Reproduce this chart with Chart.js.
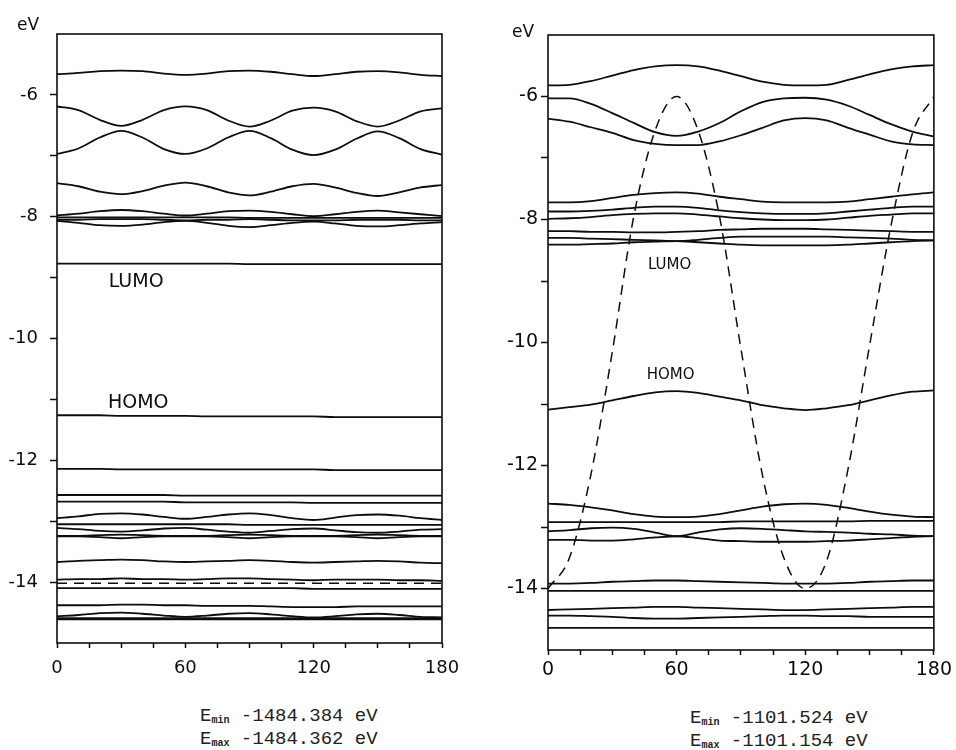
<!DOCTYPE html>
<html lang="en">
<head>
<meta charset="UTF-8">
<title>Band energies vs torsion angle</title>
<script src="https://cdn.jsdelivr.net/npm/chart.js"></script>
<style>
    html, body { margin: 0; padding: 0; background: #fff; }
    #page { position: relative; width: 956px; height: 750px; overflow: hidden; }
    canvas { position: absolute; top: 0; }
    #leftChart { left: 0; }
    #rightChart { left: 470px; }
    .energy { position: absolute; font-family: "Liberation Mono", "Courier New", monospace; font-size: 19px; color: #222; line-height: 23px; }
    .energy sub { font-size: 10px; font-weight: bold; vertical-align: -2px; line-height: 0; }
</style>
</head>
<body>
<div id="page">
    <canvas id="leftChart" width="470" height="700"></canvas>
    <canvas id="rightChart" width="486" height="700"></canvas>
    <div class="energy" id="leftEnergy" style="left:200px; top:705px"></div>
    <div class="energy" id="rightEnergy" style="left:690px; top:707px"></div>
</div>

<script>
    // torsion angle (deg)
    var angles = [0, 10, 20, 30, 40, 50, 60, 70, 80, 90, 100, 110, 120, 130, 140, 150, 160, 170, 180]
    var xTicks = [0, 60, 120, 180]
    var yTicks = [-6, -8, -10, -12, -14]

    // left panel, eV
    var leftBand1 = [-5.66, -5.64, -5.61, -5.60, -5.61, -5.65, -5.67, -5.65, -5.61, -5.60, -5.62, -5.66, -5.69, -5.66, -5.62, -5.61, -5.63, -5.67, -5.69]
    var leftBand2 = [-6.19, -6.25, -6.41, -6.51, -6.41, -6.25, -6.19, -6.25, -6.42, -6.52, -6.42, -6.26, -6.21, -6.27, -6.43, -6.52, -6.42, -6.27, -6.22]
    var leftBand3 = [-6.97, -6.88, -6.70, -6.59, -6.70, -6.89, -6.97, -6.88, -6.70, -6.59, -6.71, -6.90, -6.99, -6.90, -6.72, -6.60, -6.71, -6.89, -6.98]
    var leftBand4 = [-7.45, -7.50, -7.59, -7.63, -7.58, -7.49, -7.44, -7.50, -7.60, -7.65, -7.59, -7.50, -7.46, -7.52, -7.61, -7.66, -7.60, -7.52, -7.48]
    var leftBand5 = [-7.98, -7.95, -7.91, -7.89, -7.91, -7.95, -7.98, -7.95, -7.91, -7.90, -7.92, -7.96, -7.99, -7.96, -7.92, -7.90, -7.93, -7.96, -7.99]
    var leftBand6 = [-8.01, -8.01, -8.01, -8.01, -8.01, -8.01, -8.01, -8.01, -8.01, -8.02, -8.02, -8.02, -8.02, -8.02, -8.02, -8.02, -8.02, -8.02, -8.02]
    var leftBand7 = [-8.05, -8.05, -8.04, -8.04, -8.04, -8.05, -8.06, -8.05, -8.05, -8.04, -8.05, -8.06, -8.06, -8.06, -8.05, -8.05, -8.05, -8.06, -8.06]
    var leftBand8 = [-8.07, -8.10, -8.14, -8.15, -8.13, -8.09, -8.07, -8.10, -8.15, -8.17, -8.14, -8.10, -8.08, -8.11, -8.15, -8.16, -8.14, -8.11, -8.09]
    var leftLumo = [-8.77, -8.77, -8.77, -8.77, -8.77, -8.77, -8.77, -8.77, -8.77, -8.78, -8.78, -8.78, -8.78, -8.78, -8.78, -8.78, -8.78, -8.78, -8.78]
    var leftHomo = [-11.26, -11.26, -11.26, -11.27, -11.27, -11.27, -11.27, -11.28, -11.28, -11.28, -11.28, -11.28, -11.28, -11.29, -11.29, -11.29, -11.29, -11.29, -11.29]
    var leftBand11 = [-12.14, -12.14, -12.14, -12.15, -12.15, -12.15, -12.15, -12.15, -12.15, -12.15, -12.15, -12.15, -12.15, -12.16, -12.16, -12.16, -12.16, -12.16, -12.16]
    var leftBand12 = [-12.57, -12.57, -12.57, -12.57, -12.57, -12.57, -12.58, -12.58, -12.58, -12.58, -12.58, -12.58, -12.58, -12.58, -12.58, -12.58, -12.58, -12.58, -12.58]
    var leftBand13 = [-12.68, -12.68, -12.68, -12.68, -12.68, -12.68, -12.69, -12.69, -12.69, -12.69, -12.69, -12.69, -12.70, -12.70, -12.70, -12.70, -12.70, -12.70, -12.70]
    var leftBand14 = [-12.95, -12.92, -12.88, -12.87, -12.89, -12.93, -12.96, -12.93, -12.89, -12.87, -12.90, -12.95, -12.98, -12.94, -12.90, -12.89, -12.91, -12.95, -12.98]
    var leftBand15 = [-13.05, -13.05, -13.05, -13.05, -13.05, -13.05, -13.05, -13.05, -13.05, -13.06, -13.06, -13.06, -13.06, -13.06, -13.06, -13.06, -13.06, -13.06, -13.06]
    var leftBand16 = [-13.11, -13.13, -13.16, -13.17, -13.15, -13.12, -13.11, -13.14, -13.17, -13.19, -13.16, -13.13, -13.12, -13.15, -13.18, -13.19, -13.17, -13.14, -13.13]
    var leftBand17 = [-13.24, -13.24, -13.23, -13.22, -13.23, -13.24, -13.24, -13.24, -13.23, -13.22, -13.23, -13.24, -13.24, -13.24, -13.23, -13.22, -13.23, -13.24, -13.24]
    var leftBand18 = [-13.25, -13.25, -13.26, -13.28, -13.26, -13.25, -13.25, -13.25, -13.26, -13.28, -13.26, -13.25, -13.25, -13.25, -13.26, -13.28, -13.26, -13.25, -13.25]
    var leftBand19 = [-13.67, -13.65, -13.64, -13.63, -13.64, -13.66, -13.67, -13.66, -13.65, -13.64, -13.65, -13.67, -13.68, -13.67, -13.66, -13.65, -13.66, -13.68, -13.69]
    var leftBand20 = [-13.96, -13.95, -13.95, -13.94, -13.95, -13.95, -13.96, -13.95, -13.94, -13.94, -13.95, -13.96, -13.97, -13.96, -13.96, -13.96, -13.97, -13.97, -13.98]
    var leftTotal = [-14.02, -14.02, -14.02, -14.02, -14.02, -14.02, -14.02, -14.02, -14.02, -14.02, -14.02, -14.02, -14.02, -14.02, -14.02, -14.02, -14.02, -14.02, -14.02]
    var leftBand21 = [-14.10, -14.10, -14.10, -14.10, -14.10, -14.10, -14.10, -14.10, -14.10, -14.10, -14.10, -14.10, -14.11, -14.11, -14.11, -14.11, -14.11, -14.11, -14.11]
    var leftBand22 = [-14.38, -14.38, -14.38, -14.37, -14.37, -14.38, -14.38, -14.39, -14.39, -14.39, -14.40, -14.41, -14.41, -14.41, -14.40, -14.40, -14.40, -14.40, -14.40]
    var leftBand23 = [-14.56, -14.54, -14.51, -14.50, -14.52, -14.55, -14.57, -14.55, -14.52, -14.51, -14.53, -14.56, -14.58, -14.56, -14.53, -14.52, -14.54, -14.57, -14.58]
    var leftBand24 = [-14.59, -14.59, -14.59, -14.59, -14.59, -14.59, -14.59, -14.59, -14.59, -14.59, -14.59, -14.59, -14.59, -14.59, -14.59, -14.59, -14.59, -14.59, -14.59]
    var leftBand25 = [-14.61, -14.61, -14.61, -14.61, -14.61, -14.61, -14.61, -14.61, -14.61, -14.61, -14.61, -14.61, -14.61, -14.61, -14.61, -14.61, -14.61, -14.61, -14.61]

    // right panel, eV
    var rightBand1 = [-5.82, -5.81, -5.75, -5.66, -5.57, -5.51, -5.49, -5.51, -5.58, -5.67, -5.76, -5.81, -5.82, -5.81, -5.73, -5.64, -5.56, -5.51, -5.49]
    var rightBand2 = [-6.03, -6.03, -6.12, -6.27, -6.43, -6.58, -6.64, -6.57, -6.43, -6.24, -6.09, -6.03, -6.02, -6.05, -6.15, -6.30, -6.45, -6.57, -6.65]
    var rightBand3 = [-6.36, -6.41, -6.50, -6.59, -6.71, -6.77, -6.79, -6.79, -6.73, -6.63, -6.51, -6.39, -6.35, -6.39, -6.51, -6.62, -6.73, -6.78, -6.79]
    var rightBand4 = [-7.72, -7.72, -7.70, -7.65, -7.60, -7.57, -7.56, -7.58, -7.63, -7.67, -7.71, -7.72, -7.72, -7.72, -7.71, -7.67, -7.63, -7.59, -7.56]
    var rightBand5 = [-7.87, -7.87, -7.86, -7.84, -7.81, -7.79, -7.79, -7.81, -7.85, -7.88, -7.90, -7.91, -7.91, -7.90, -7.87, -7.84, -7.81, -7.79, -7.79]
    var rightBand6 = [-7.99, -7.98, -7.96, -7.93, -7.91, -7.90, -7.90, -7.92, -7.95, -7.98, -8.00, -8.01, -8.01, -8.00, -7.97, -7.94, -7.92, -7.90, -7.90]
    var rightBand7 = [-8.19, -8.19, -8.20, -8.20, -8.21, -8.21, -8.20, -8.19, -8.17, -8.16, -8.15, -8.15, -8.15, -8.16, -8.17, -8.18, -8.19, -8.20, -8.20]
    var rightBand8 = [-8.30, -8.30, -8.31, -8.32, -8.33, -8.34, -8.35, -8.33, -8.30, -8.28, -8.28, -8.28, -8.28, -8.28, -8.29, -8.30, -8.31, -8.33, -8.34]
    var rightLumo = [-8.41, -8.41, -8.40, -8.39, -8.37, -8.36, -8.35, -8.37, -8.39, -8.41, -8.42, -8.42, -8.42, -8.42, -8.41, -8.39, -8.37, -8.35, -8.34]
    var rightHomo = [-11.09, -11.05, -11.01, -10.94, -10.87, -10.81, -10.79, -10.82, -10.88, -10.94, -11.02, -11.07, -11.10, -11.07, -11.02, -10.94, -10.86, -10.80, -10.78]
    var rightBand11 = [-12.62, -12.64, -12.68, -12.73, -12.79, -12.83, -12.84, -12.83, -12.79, -12.73, -12.67, -12.63, -12.62, -12.64, -12.69, -12.75, -12.80, -12.83, -12.84]
    var rightBand12 = [-12.92, -12.92, -12.92, -12.92, -12.92, -12.92, -12.92, -12.92, -12.92, -12.91, -12.91, -12.91, -12.91, -12.91, -12.91, -12.90, -12.90, -12.90, -12.90]
    var rightBand13 = [-13.07, -13.05, -13.02, -13.01, -13.03, -13.09, -13.15, -13.09, -13.04, -13.02, -13.03, -13.05, -13.07, -13.08, -13.09, -13.11, -13.12, -13.14, -13.15]
    var rightBand14 = [-13.21, -13.21, -13.22, -13.22, -13.20, -13.17, -13.15, -13.18, -13.22, -13.23, -13.24, -13.24, -13.24, -13.23, -13.22, -13.20, -13.18, -13.16, -13.15]
    var rightBand15 = [-13.92, -13.92, -13.91, -13.89, -13.88, -13.87, -13.87, -13.88, -13.89, -13.90, -13.91, -13.92, -13.92, -13.92, -13.91, -13.89, -13.88, -13.87, -13.87]
    var rightBand16 = [-14.04, -14.04, -14.04, -14.04, -14.04, -14.04, -14.04, -14.04, -14.04, -14.04, -14.04, -14.04, -14.04, -14.04, -14.04, -14.04, -14.04, -14.04, -14.04]
    var rightBand17 = [-14.35, -14.34, -14.33, -14.32, -14.31, -14.30, -14.30, -14.31, -14.32, -14.33, -14.34, -14.35, -14.35, -14.34, -14.33, -14.32, -14.31, -14.30, -14.30]
    var rightBand18 = [-14.44, -14.44, -14.45, -14.46, -14.48, -14.49, -14.49, -14.48, -14.47, -14.46, -14.45, -14.44, -14.44, -14.45, -14.45, -14.46, -14.46, -14.46, -14.46]
    var rightBand19 = [-14.64, -14.64, -14.64, -14.64, -14.64, -14.64, -14.64, -14.64, -14.64, -14.64, -14.64, -14.64, -14.64, -14.64, -14.64, -14.64, -14.64, -14.64, -14.64]
    // total energy curve (scaled), dashed
    var rightTotal = [-14.0, -13.5, -12.15, -10.15, -7.95, -6.55, -6.0, -6.55, -7.95, -10.1, -12.15, -13.5, -14.0, -13.55, -12.05, -10.05, -8.1, -6.6, -6.0]

    var leftEnergy = ['-1484.384', '-1484.362']
    var rightEnergy = ['-1101.524', '-1101.154']

    var INK = '#0d0d0d'
    var FONT = '"DejaVu Sans", sans-serif'

    function line(values, dashed) {
        return {
            data: values.map((v, i) => ({x: angles[i], y: v})),
            borderColor: INK,
            borderWidth: dashed ? 1.5 : 1.8,
            borderDash: dashed ? [10, 7] : [],
            pointRadius: 0,
            fill: false,
            cubicInterpolationMode: 'monotone'
        }
    }

    // frame, "eV" unit and HOMO/LUMO notes
    function textPlugin(cfg) {
        return {
            id: 'bandText',
            afterDraw(chart) {
                var ctx = chart.ctx, a = chart.chartArea
                var sx = chart.scales.x, sy = chart.scales.y
                ctx.save()
                ctx.strokeStyle = INK
                ctx.lineWidth = 1.6
                ctx.strokeRect(a.left, a.top, a.right - a.left, a.bottom - a.top)
                ctx.fillStyle = INK
                ctx.textAlign = 'center'
                ctx.textBaseline = 'middle'
                ctx.font = '17px ' + FONT
                ctx.fillText('eV', a.left + cfg.unitDx, a.top + cfg.unitDy)
                ctx.font = cfg.noteSize + 'px ' + FONT
                cfg.notes.forEach(n => ctx.fillText(n.text, sx.getPixelForValue(n.x), sy.getPixelForValue(n.y)))
                ctx.restore()
            }
        }
    }

    function makeChart(id, datasets, cfg) {
        return new Chart(document.getElementById(id), {
            type: 'line',
            data: {datasets: datasets},
            options: {
                responsive: false,
                animation: false,
                events: [],
                layout: {padding: {top: cfg.top, right: cfg.right, left: 0, bottom: 0}},
                plugins: {legend: {display: false}, tooltip: {enabled: false}},
                scales: {
                    x: {
                        type: 'linear', min: 0, max: 180,
                        afterFit: s => { s.height = cfg.xHeight },
                        border: {display: false},
                        grid: {drawOnChartArea: false, tickLength: 5, tickColor: INK, tickWidth: 1.5},
                        ticks: {
                            stepSize: 15, autoSkip: false, maxRotation: 0, padding: cfg.xPad, color: INK,
                            font: {family: FONT, size: cfg.tickSize},
                            callback: v => xTicks.includes(v) ? String(v) : ''
                        }
                    },
                    y: {
                        min: -15, max: -5,
                        afterFit: s => { s.width = cfg.yWidth },
                        border: {display: false},
                        grid: {
                            drawOnChartArea: false, tickLength: 7, tickWidth: 1.5,
                            tickColor: c => (c.tick && (c.tick.value <= -15 || c.tick.value >= -5)) ? 'rgba(0,0,0,0)' : INK
                        },
                        ticks: {
                            stepSize: 1, padding: cfg.yPad, color: INK,
                            font: {family: FONT, size: cfg.tickSize},
                            callback: v => yTicks.includes(v) ? String(v) : ''
                        }
                    }
                }
            },
            plugins: [textPlugin(cfg)]
        })
    }

    var leftSets = [leftBand1, leftBand2, leftBand3, leftBand4, leftBand5, leftBand6, leftBand7, leftBand8,
        leftLumo, leftHomo, leftBand11, leftBand12, leftBand13, leftBand14, leftBand15, leftBand16, leftBand17,
        leftBand18, leftBand19, leftBand20, leftBand21, leftBand22, leftBand23, leftBand24, leftBand25].map(v => line(v, false))
    leftSets.push(line(leftTotal, true))

    var rightSets = [rightBand1, rightBand2, rightBand3, rightBand4, rightBand5, rightBand6, rightBand7, rightBand8,
        rightLumo, rightHomo, rightBand11, rightBand12, rightBand13, rightBand14, rightBand15, rightBand16,
        rightBand17, rightBand18, rightBand19].map(v => line(v, false))
    rightSets.push(line(rightTotal, true))

    makeChart('leftChart', leftSets, {
        top: 34, right: 28, xHeight: 57, yWidth: 57, xPad: 10, yPad: 12, tickSize: 18,
        unitDx: -29, unitDy: -8, noteSize: 19,
        notes: [{text: 'LUMO', x: 37, y: -9.07}, {text: 'HOMO', x: 38, y: -11.06}]
    })

    makeChart('rightChart', rightSets, {
        top: 35, right: 21, xHeight: 50, yWidth: 78, xPad: 4, yPad: 3, tickSize: 19,
        unitDx: -25, unitDy: -2, noteSize: 15,
        notes: [{text: 'LUMO', x: 56.7, y: -8.74}, {text: 'HOMO', x: 57.2, y: -10.53}]
    })

    function energyText(vals) {
        return 'E<sub>min</sub> ' + vals[0] + ' eV<br>E<sub>max</sub> ' + vals[1] + ' eV'
    }
    document.getElementById('leftEnergy').innerHTML = energyText(leftEnergy)
    document.getElementById('rightEnergy').innerHTML = energyText(rightEnergy)
</script>
</body>
</html>
